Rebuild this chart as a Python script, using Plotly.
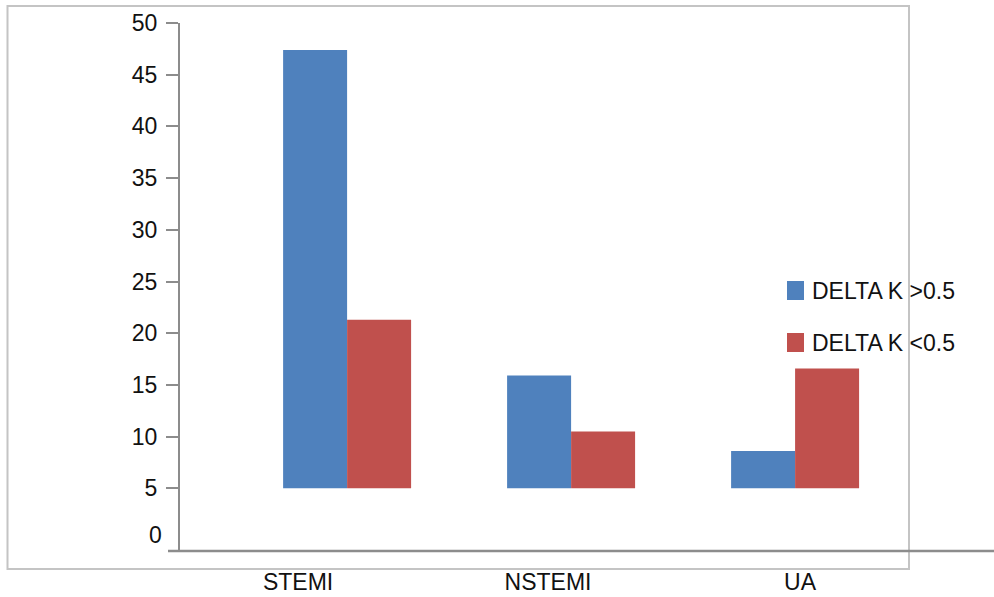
import plotly.graph_objects as go

# Data
categories = ["STEMI", "NSTEMI", "UA"]
delta_k_above = [47.4, 15.9, 8.6]   # DELTA K >0.5
delta_k_below = [21.3, 10.5, 16.6]  # DELTA K <0.5
series_names = ["DELTA K >0.5", "DELTA K <0.5"]
y_ticks = [5, 10, 15, 20, 25, 30, 35, 40, 45, 50]
bar_base = 5

colors = ["#4f81bd", "#c0504d"]
font_family = "Liberation Sans, Arial, sans-serif"
text_color = "#111111"

W, H = 994, 597
ML, MR, MT, MB = 180, 0, 23, 46
plot_w = W - ML - MR
plot_h = H - MT - MB


def px_x(x):
    return (x - ML) / plot_w


def px_y(y):
    return (H - MB - y) / plot_h


x_pos = list(range(len(categories)))

fig = go.Figure()
for name, vals, col in zip(series_names, [delta_k_above, delta_k_below], colors):
    fig.add_trace(go.Bar(
        x=x_pos,
        y=[v - bar_base for v in vals],
        base=bar_base,
        name=name,
        marker=dict(color=col, line=dict(width=0)),
        showlegend=False,
        customdata=vals,
        hovertemplate="%{customdata}<extra>" + name + "</extra>",
    ))

# category labels sit slightly off the bar groups
label_pos = [-0.219, 0.897, 2.022]

fig.update_layout(
    width=W, height=H,
    margin=dict(l=ML, r=MR, t=MT, b=MB, pad=0),
    paper_bgcolor="white", plot_bgcolor="white",
    barmode="group", bargap=0.4286, bargroupgap=0,
    font=dict(family=font_family, color=text_color),
    xaxis=dict(
        range=[-0.746, 2.888],
        tickvals=label_pos, ticktext=categories,
        showgrid=False, zeroline=False, showline=False, ticks="",
        tickfont=dict(size=23, family=font_family, color=text_color),
        ticklabelstandoff=15,
        automargin=False,
        fixedrange=True,
    ),
    yaxis=dict(
        range=[-1.06, 50],
        tickvals=y_ticks,
        showgrid=False, zeroline=False,
        showline=True, linecolor="#8c8c8c", linewidth=2,
        ticks="outside", ticklen=12, tickwidth=2, tickcolor="#8c8c8c",
        tickfont=dict(size=23, family=font_family, color=text_color),
        ticklabelstandoff=4,
        automargin=False,
        fixedrange=True,
    ),
)

shapes = []
# outer frame
shapes.append(dict(type="rect", xref="paper", yref="paper",
                   x0=px_x(7.5), x1=px_x(909), y0=px_y(569), y1=px_y(6),
                   line=dict(color="#c4c4c4", width=2), layer="above"))
# horizontal axis line
shapes.append(dict(type="line", xref="paper", yref="paper",
                   x0=px_x(168), x1=1, y0=0, y1=0,
                   line=dict(color="#8c8c8c", width=2.5), layer="above"))

annotations = []
# label for zero on the value axis
annotations.append(dict(xref="paper", yref="y", x=px_x(164), y=0, yshift=5,
                        text="0", showarrow=False, xanchor="right", yanchor="middle",
                        font=dict(size=23, family=font_family, color=text_color)))

# legend: swatches and labels
legend_rows = [290.5, 342.5]
for name, col, cy in zip(series_names, colors, legend_rows):
    shapes.append(dict(type="rect", xref="paper", yref="paper",
                       x0=px_x(787), x1=px_x(804), y0=px_y(cy + 9.5), y1=px_y(cy - 9.5),
                       fillcolor=col, line=dict(width=0)))
    annotations.append(dict(xref="paper", yref="paper", x=px_x(810), y=px_y(cy),
                            text=name, showarrow=False, xanchor="left", yanchor="middle",
                            font=dict(size=23, family=font_family, color=text_color)))

fig.update_layout(shapes=shapes, annotations=annotations)

fig.write_html("out.html")
